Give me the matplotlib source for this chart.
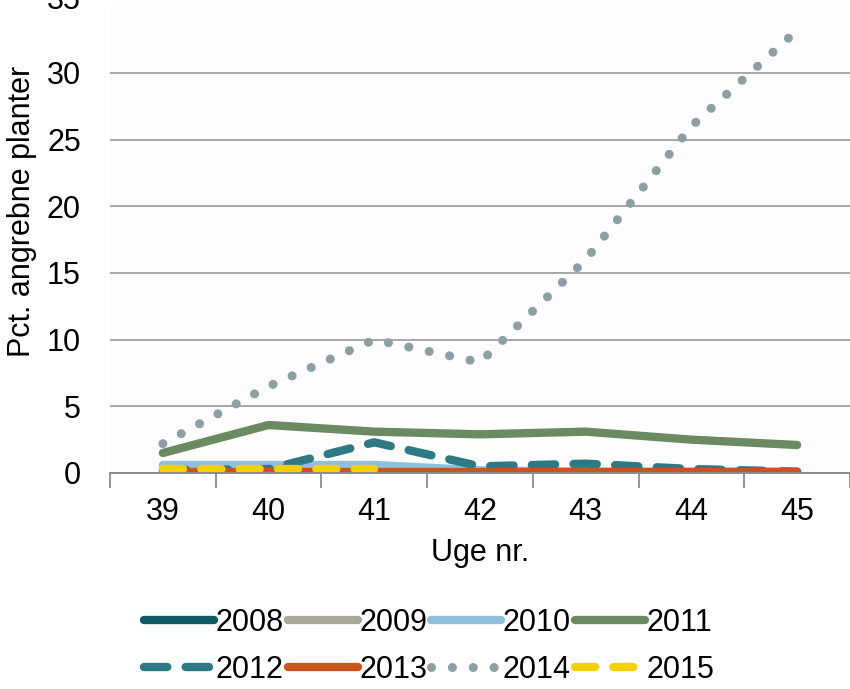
import numpy as np
import matplotlib.pyplot as plt
import matplotlib.transforms as mtransforms

plt.rcParams['font.family'] = ['Liberation Sans', 'DejaVu Sans']

weeks = [39, 40, 41, 42, 43, 44, 45]
years = ['2008', '2009', '2010', '2011', '2012', '2013', '2014', '2015']

v2008 = [0, 0, 0, 0, 0, 0, 0]
v2009 = [0, 0, 0, 0, 0, 0, 0]
v2010 = [0.6, 0.6, 0.6, 0.2, 0.1, 0.1, 0.1]
v2011 = [1.5, 3.6, 3.1, 2.9, 3.1, 2.5, 2.1]
v2012 = [0.2, 0.3, 2.3, 0.5, 0.7, 0.3, 0.1]
v2013 = [0.05, 0.05, 0.05, 0.05, 0.05, 0.05, 0.05]
v2014 = [2.2, 6.5, 10.0, 8.3, 16.0, 26.0, 33.2]
v2015 = [0.3, 0.3, 0.3, np.nan, np.nan, np.nan, np.nan]

colors = ['#0e5b63', '#a9a897', '#8ec0de', '#6b8a62', '#2e7a84', '#c8561a', '#8d9ea4', '#f4d000']
styles = ['-', '-', '-', '-', (0, (2.8, 2.2)), '-', (0, (0.01, 2.3)), (0, (2.4, 2.2))]

series = [v2008, v2009, v2010, v2011, v2012, v2013, v2014, v2015]

fig = plt.figure(figsize=(8.5, 6.89), dpi=100, facecolor='white')
ax = fig.add_axes([0.1294, 0.3135, 0.8706, 0.6774])
ax.set_facecolor('#fdfdfd')

handles = []
for vals, c, ls, yr in zip(series, colors, styles, years):
    lw = 6.5 if yr == '2014' else 6
    h, = ax.plot(weeks, vals, color=c, linestyle=ls, lw=lw, label=yr,
                 solid_capstyle='round', dash_capstyle='round')
    handles.append(h)

ax.set_xlim(38.5, 45.5)
ax.set_ylim(0, 35)
ax.set_yticks(range(0, 40, 5))
ax.set_xticks(weeks)
ax.set_xticks(np.arange(38.5, 46, 1), minor=True)
ax.tick_params(axis='x', which='major', length=0, pad=17, labelsize=22)
ax.tick_params(axis='x', which='minor', length=11, width=1.3, color='#8c8c8c')
ax.tick_params(axis='y', length=0, pad=21, labelsize=22)
ax.grid(axis='y', color='#a6a6a6', lw=1.4)
ax.get_ygridlines()[-1].set_visible(False)
ax.set_axisbelow(True)
for s in ['left', 'right', 'top']:
    ax.spines[s].set_visible(False)
ax.spines['bottom'].set_color('#8c8c8c')
ax.spines['bottom'].set_linewidth(1.4)

# top label is half cut off in the original crop
top_lbl = ax.get_yticklabels()[-1]
top_lbl.set_transform(top_lbl.get_transform() +
                      mtransforms.ScaledTranslation(0, 6 / 72, fig.dpi_scale_trans))

ax.set_xlabel('Uge nr.', fontsize=22, labelpad=8)
ax.set_ylabel('Pct. angrebne planter', fontsize=22)
ax.yaxis.set_label_coords(-0.099, 0.561)

# legend is filled column-first, so reorder to get rows 2008-2011 / 2012-2015
order = [0, 4, 1, 5, 2, 6, 3, 7]
fig.legend([handles[i] for i in order], [years[i] for i in order],
           loc='center', bbox_to_anchor=(0.505, 0.062), ncol=4, frameon=False,
           fontsize=22, handlelength=2.3, handletextpad=0.05, columnspacing=0.12,
           labelspacing=0.55)

fig.savefig('out.png', dpi=100)
